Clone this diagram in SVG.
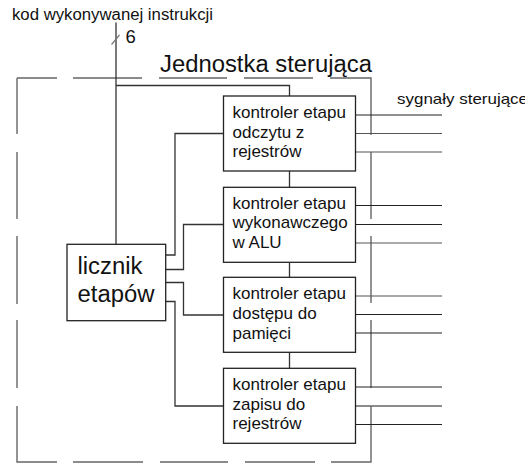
<svg xmlns="http://www.w3.org/2000/svg" width="525" height="471" viewBox="0 0 525 471">
<style>
text{font-family:"Liberation Sans",Arial,sans-serif;fill:#111}
.bt{font-size:17px}
.box{fill:#fff;stroke:#222;stroke-width:1.3}
.bd{stroke:#666;stroke-width:1.4;fill:none}
.c{stroke:#333;stroke-width:1.3;fill:none}
.o{stroke:#222;stroke-width:1.2}
</style>
<rect width="525" height="471" fill="#fff"/>
<g id="border">
<path class="bd" d="M17,78H57M73,78H142M159,78H227M244,78H313M330,78H371V135M371,152V219M371,236V303M371,320V388M371,406V462H331M315,462H245M228,462H160M143,462H73M57,462H17V406M17,388V320M17,304V236M17,219V152M17,134V78"/>
</g>
<g id="labels">
<text x="12" y="20" font-size="16" textLength="201" lengthAdjust="spacingAndGlyphs">kod wykonywanej instrukcji</text>
<text x="125.5" y="43.3" font-size="18.5">6</text>
<text x="160" y="72" font-size="23.5" textLength="212" lengthAdjust="spacingAndGlyphs">Jednostka sterująca</text>
<text x="397" y="104" font-size="15" textLength="131" lengthAdjust="spacingAndGlyphs">sygnały sterujące</text>
</g>
<g id="connectors">
<line class="c" x1="116" y1="22.5" x2="116" y2="244"/>
<line x1="111.5" y1="44.5" x2="119.5" y2="35" stroke="#777" stroke-width="1.2"/>
<path class="c" d="M116,85.5H289.5V96"/>
<path class="c" d="M166,255H175V133.5H223.5"/>
<path class="c" d="M166,269.5H183.5V224.5H223.5"/>
<path class="c" d="M166,282.5H183.5V315H223.5"/>
<path class="c" d="M166,301.5H175V406H223.5"/>
<path class="c" d="M289.5,171V187M289.5,262V277M289.5,352V368"/>
<g class="o">
<line x1="356" y1="115" x2="442" y2="115"/>
<line x1="356" y1="133.5" x2="442" y2="133.5" stroke="#555"/>
<line x1="356" y1="152" x2="442" y2="152" stroke="#555"/>
<line x1="356" y1="205.5" x2="442" y2="205.5"/>
<line x1="356" y1="224.5" x2="442" y2="224.5"/>
<line x1="356" y1="243" x2="442" y2="243" stroke="#555"/>
<line x1="356" y1="296" x2="442" y2="296" stroke="#555"/>
<line x1="356" y1="314.5" x2="442" y2="314.5"/>
<line x1="356" y1="333" x2="442" y2="333"/>
<line x1="356" y1="387" x2="442" y2="387"/>
<line x1="356" y1="406" x2="442" y2="406" stroke="#666" stroke-width="1.5"/>
<line x1="356" y1="424.5" x2="442" y2="424.5"/>
</g>
</g>
<g id="licznik">
<rect class="box" x="67" y="244.3" width="98.7" height="76.4"/>
<text x="77.5" y="274.3" font-size="23" textLength="65" lengthAdjust="spacingAndGlyphs">licznik</text>
<text x="77.5" y="301.7" font-size="23" textLength="77" lengthAdjust="spacingAndGlyphs">etapów</text>
</g>
<g id="k1">
<rect class="box" x="223.5" y="96" width="132" height="75"/>
<text class="bt" x="232.5" y="118.3">kontroler etapu</text>
<text class="bt" x="232.5" y="137.7">odczytu z</text>
<text class="bt" x="232.5" y="156.8">rejestrów</text>
</g>
<g id="k2">
<rect class="box" x="223.5" y="187.3" width="132" height="75"/>
<text class="bt" x="232.5" y="208.5">kontroler etapu</text>
<text class="bt" x="232.5" y="228.3">wykonawczego</text>
<text class="bt" x="232.5" y="247.7">w ALU</text>
</g>
<g id="k3">
<rect class="box" x="223.5" y="277.3" width="132" height="75"/>
<text class="bt" x="232.5" y="299">kontroler etapu</text>
<text class="bt" x="232.5" y="319">dostępu do</text>
<text class="bt" x="232.5" y="339">pamięci</text>
</g>
<g id="k4">
<rect class="box" x="223.5" y="368.3" width="132" height="75"/>
<text class="bt" x="232.5" y="390">kontroler etapu</text>
<text class="bt" x="232.5" y="409.5">zapisu do</text>
<text class="bt" x="232.5" y="429">rejestrów</text>
</g>
</svg>
